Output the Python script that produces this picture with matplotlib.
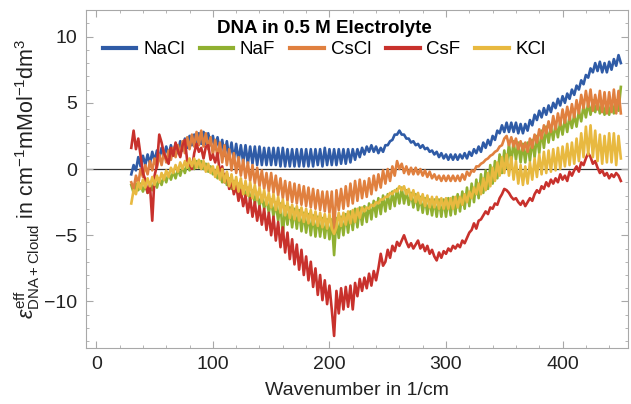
import numpy as np
import matplotlib
matplotlib.use("Agg")
import matplotlib.pyplot as plt

# wavenumber grid (1/cm), values every 2 cm^-1
wavenumber = np.arange(30, 452, 2)

nacl = [
    -0.4, 0.3, -0.1, 0.9, 0.2, 1.0, 0.3, 1.1, 0.4, 1.3,
    0.6, 1.4, 0.8, 1.6, 0.9, 1.7, 1.0, 1.8, 1.1, 1.9,
    1.2, 2.1, 1.4, 2.3, 1.6, 2.5, 1.8, 2.6, 1.9, 2.7,
    1.9, 2.8, 1.9, 2.7, 1.8, 2.5, 1.5, 2.4, 1.3, 2.2,
    1.0, 2.1, 0.8, 2.0, 0.7, 1.9, 0.6, 1.8, 0.5, 1.8,
    0.4, 1.7, 0.4, 1.7, 0.3, 1.7, 0.3, 1.6, 0.3, 1.6,
    0.3, 1.6, 0.3, 1.6, 0.2, 1.6, 0.2, 1.5, 0.2, 1.5,
    0.2, 1.5, 0.2, 1.5, 0.2, 1.5, 0.2, 1.5, 0.2, 1.5,
    0.3, 1.5, 0.2, 1.6, 0.3, 1.5, 0.3, 1.5, 0.3, 1.5,
    0.4, 1.5, 0.4, 1.5, 0.5, 1.5, 0.7, 1.5, 0.9, 1.6,
    1.1, 1.7, 1.3, 1.8, 1.3, 1.7, 1.2, 1.6, 1.3, 1.8,
    1.8, 2.1, 2.2, 2.6, 2.6, 2.9, 2.6, 2.6, 2.3, 2.3,
    2.0, 2.1, 1.8, 1.9, 1.6, 1.8, 1.5, 1.6, 1.3, 1.4,
    1.1, 1.3, 0.9, 1.2, 0.8, 1.1, 0.7, 1.1, 0.7, 1.1,
    0.7, 1.1, 0.8, 1.2, 0.8, 1.3, 1.0, 1.5, 1.2, 1.7,
    1.3, 2.0, 1.6, 2.2, 1.8, 2.5, 2.2, 2.9, 2.7, 3.3,
    2.8, 3.5, 2.8, 3.5, 2.8, 3.5, 2.7, 3.4, 2.7, 3.4,
    2.9, 3.7, 3.3, 4.1, 3.7, 4.4, 3.9, 4.6, 4.1, 4.8,
    4.3, 5.0, 4.6, 5.3, 4.8, 5.5, 5.0, 5.7, 5.3, 6.0,
    5.6, 6.3, 6.0, 6.7, 6.4, 7.1, 6.9, 7.6, 7.3, 8.0,
    7.4, 8.1, 7.3, 8.0, 7.3, 8.1, 7.5, 8.3, 7.8, 8.6,
    8.0,
]

naf = [
    -1.2, -1.8, -1.1, -1.6, -1.1, -1.7, -1.2, -1.8, -1.1, -1.6,
    -0.9, -1.4, -0.7, -1.2, -0.5, -1.0, -0.3, -0.8, -0.2, -0.7,
    0.0, -0.5, 0.2, -0.3, 0.4, -0.1, 0.5, 0.0, 0.6, 0.1,
    0.6, 0.0, 0.4, -0.2, 0.2, -0.4, -0.1, -0.7, -0.3, -1.0,
    -0.4, -1.2, -0.7, -1.5, -0.9, -1.7, -1.1, -1.9, -1.3, -2.1,
    -1.4, -2.4, -1.6, -2.6, -1.8, -2.8, -2.0, -3.0, -2.2, -3.3,
    -2.3, -3.6, -2.5, -3.9, -2.6, -5.0, -2.8, -4.2, -2.9, -4.4,
    -3.0, -4.5, -3.1, -4.7, -3.3, -4.8, -3.4, -5.0, -3.5, -5.1,
    -3.6, -5.1, -3.7, -5.2, -3.8, -5.3, -3.8, -6.5, -3.7, -5.2,
    -3.6, -5.0, -3.4, -4.8, -3.2, -4.6, -3.0, -4.4, -2.9, -4.2,
    -2.8, -4.0, -2.6, -3.8, -2.4, -3.6, -2.2, -3.4, -2.0, -3.2,
    -1.9, -3.0, -1.7, -2.8, -1.5, -2.6, -1.4, -2.6, -1.6, -2.7,
    -1.8, -2.9, -1.9, -3.1, -2.1, -3.3, -2.2, -3.4, -2.3, -3.5,
    -2.3, -3.6, -2.3, -3.6, -2.3, -3.6, -2.2, -3.5, -2.1, -3.4,
    -1.9, -3.2, -1.7, -3.0, -1.4, -2.8, -1.1, -2.5, -0.8, -2.2,
    -0.4, -1.8, -0.1, -1.5, 0.3, -1.1, 0.6, -0.7, 1.1, -0.3,
    1.4, 0.1, 1.9, 0.5, 2.1, 0.7, 2.0, 0.5, 1.9, 0.5,
    2.0, 0.6, 2.2, 0.9, 2.5, 1.2, 2.9, 1.6, 3.2, 2.0,
    3.2, 2.2, 3.4, 2.4, 3.6, 2.6, 3.8, 2.8, 4.0, 3.1,
    4.1, 3.2, 4.4, 3.6, 4.8, 3.9, 5.0, 4.1, 5.2, 4.3,
    5.1, 4.2, 5.0, 4.1, 5.0, 4.1, 5.1, 4.2, 5.2, 4.4,
    6.2,
]

cscl = [
    -1.0, -1.5, -0.5, -1.1, 0.0, -0.6, 0.3, -0.4, 0.6, -0.1,
    0.8, 0.1, 1.1, 0.3, 1.3, 0.5, 1.4, 0.7, 1.6, 0.9,
    1.8, 1.0, 2.1, 1.2, 2.4, 1.5, 2.6, 1.7, 2.8, 1.8,
    2.9, 1.7, 2.7, 1.5, 2.4, 1.1, 2.2, 0.8, 2.0, 0.5,
    1.8, 0.3, 1.5, -0.1, 1.2, -0.3, 0.9, -0.5, 0.7, -0.7,
    0.5, -0.9, 0.3, -1.1, 0.1, -1.3, -0.1, -1.5, -0.3, -1.7,
    -0.3, -1.8, -0.5, -2.0, -0.7, -2.2, -0.9, -2.4, -1.0, -2.5,
    -1.1, -2.6, -1.2, -2.7, -1.3, -2.8, -1.4, -2.9, -1.5, -3.0,
    -1.6, -3.1, -1.7, -3.2, -1.7, -3.3, -1.7, -4.6, -1.6, -3.1,
    -1.5, -3.0, -1.3, -2.8, -1.1, -2.6, -0.9, -2.4, -0.8, -2.2,
    -0.9, -2.1, -0.7, -1.9, -0.5, -1.6, -0.4, -1.4, -0.1, -1.1,
    0.0, -0.9, 0.2, -0.5, 0.6, 0.0, 0.4, -0.3, 0.2, -0.4,
    0.1, -0.4, 0.1, -0.4, 0.0, -0.5, -0.1, -0.6, -0.2, -0.7,
    -0.4, -0.8, -0.5, -0.9, -0.5, -0.9, -0.5, -0.9, -0.5, -0.9,
    -0.5, -0.9, -0.4, -0.8, -0.2, -0.5, -0.1, -0.2, 0.2, 0.2,
    0.4, 0.5, 0.7, 0.8, 1.0, 1.1, 1.3, 1.4, 1.7, 1.8,
    2.3, 2.5, 1.8, 2.4, 1.7, 2.3, 1.5, 2.1, 1.4, 2.0,
    1.3, 2.3, 1.6, 2.6, 2.0, 3.0, 2.3, 3.3, 2.7, 3.6,
    2.8, 4.0, 3.0, 4.2, 3.3, 4.5, 3.5, 4.7, 3.7, 4.9,
    3.9, 5.2, 4.2, 5.6, 4.6, 5.9, 4.7, 6.0, 4.4, 5.6,
    4.5, 5.9, 4.3, 5.8, 4.2, 5.8, 4.3, 6.0, 4.2, 5.9,
    4.2,
]

csf = [
    1.6, 2.9, 1.5, 2.3, 1.0, -0.3, -0.8, -1.8, -1.2, -3.9,
    -0.5, 0.3, 2.6, 2.0, 1.2, 0.8, 0.4, 1.6, 1.0, 2.0,
    1.4, 0.9, 1.8, 2.2, 0.6, 0.4, 0.0, 1.2, 1.9, 1.3,
    1.6, 0.8, 1.7, 1.8, 0.7, 1.1, 0.5, 1.2, -0.3, 0.2,
    -1.0, -0.3, -1.5, -0.8, -1.9, -1.2, -2.4, -1.6, -2.8, -2.0,
    -3.3, -2.2, -3.6, -2.5, -3.9, -2.8, -4.2, -3.0, -4.6, -3.3,
    -5.0, -3.6, -5.4, -4.0, -5.9, -4.4, -6.3, -4.8, -6.8, -5.3,
    -7.2, -5.7, -7.6, -6.1, -8.0, -6.6, -8.4, -7.0, -8.9, -7.5,
    -9.5, -8.0, -9.9, -8.4, -10.2, -8.8, -10.6, -12.6, -9.2, -10.9,
    -9.0, -10.6, -8.9, -10.4, -8.8, -10.6, -8.6, -9.6, -8.3, -9.2,
    -8.2, -9.0, -7.9, -8.8, -7.7, -8.4, -7.5, -6.4, -7.3, -7.0,
    -6.1, -6.7, -5.8, -6.2, -5.5, -5.8, -5.4, -5.0, -5.5, -5.9,
    -5.6, -6.0, -5.7, -5.4, -6.0, -5.7, -6.2, -5.8, -6.4, -6.1,
    -6.6, -6.9, -6.3, -6.7, -6.2, -6.4, -6.0, -6.2, -5.8, -6.0,
    -5.7, -5.9, -5.4, -5.6, -5.2, -4.8, -4.6, -4.1, -4.5, -3.9,
    -3.8, -3.5, -3.2, -3.4, -2.9, -3.0, -2.6, -2.7, -2.2, -1.9,
    -1.5, -1.6, -1.8, -2.1, -2.3, -2.2, -2.5, -2.7, -2.4, -2.8,
    -2.5, -2.2, -2.4, -1.9, -1.6, -1.8, -1.3, -1.5, -1.0, -1.3,
    -0.8, -1.1, -0.7, -1.0, -0.4, -0.8, -0.5, -0.9, -0.2, -0.5,
    -0.1, 0.2, -0.2, 0.5, 0.3, 0.8, 1.2, 0.9, 0.4, 0.6,
    0.1, -0.3, -0.1, -0.5, -0.3, -0.7, -0.4, -0.6, -0.3, -0.5,
    -0.9,
]

kcl = [
    -2.6, -1.6, -1.9, -1.0, -1.5, -0.8, -1.4, -0.7, -1.3, -0.6,
    -1.2, -0.5, -1.0, -0.3, -0.8, -0.1, -0.6, 0.1, -0.3, 0.3,
    -0.2, 0.5, 0.0, 0.6, 0.1, 0.8, 0.2, 0.8, 0.1, 0.7,
    0.0, 0.6, -0.2, 0.4, -0.3, 0.2, -0.6, 0.2, -0.8, 0.0,
    -1.0, -0.2, -1.3, -0.4, -1.5, -0.6, -1.7, -0.7, -1.9, -0.9,
    -2.0, -1.0, -2.2, -1.2, -2.3, -1.4, -2.5, -1.6, -2.7, -1.8,
    -2.9, -1.9, -3.1, -2.1, -3.3, -2.3, -3.5, -2.5, -3.7, -2.7,
    -3.8, -2.8, -3.9, -2.9, -4.0, -3.0, -4.1, -3.1, -4.2, -3.2,
    -4.3, -3.3, -4.4, -3.4, -4.5, -3.4, -4.5, -4.9, -4.4, -3.3,
    -4.3, -3.3, -4.2, -3.2, -4.1, -3.1, -4.0, -3.0, -3.7, -2.9,
    -3.2, -2.9, -3.0, -2.7, -2.8, -2.5, -2.6, -2.3, -2.3, -2.1,
    -2.1, -1.8, -1.9, -1.6, -1.7, -1.3, -1.6, -1.3, -1.9, -1.5,
    -2.3, -1.6, -2.5, -1.8, -2.6, -1.9, -2.8, -2.0, -2.9, -2.1,
    -2.9, -2.1, -3.0, -2.2, -3.0, -2.2, -3.0, -2.2, -3.0, -2.1,
    -2.9, -2.1, -2.7, -1.9, -2.5, -1.7, -2.2, -1.4, -1.9, -1.1,
    -1.9, -0.7, -1.6, -0.3, -1.3, 0.1, -0.9, 0.5, -0.5, 0.9,
    -0.3, 1.1, -0.5, 0.9, -0.8, 0.6, -1.1, 0.3, -1.2, 0.2,
    -1.1, 0.5, -0.8, 0.8, -0.6, 1.1, -0.4, 1.3, -0.3, 1.4,
    -0.2, 1.5, -0.1, 1.6, 0.0, 1.7, 0.2, 1.9, 0.3, 2.0,
    0.4, 2.3, 0.6, 2.7, 0.9, 3.2, 1.1, 3.3, 0.9, 2.9,
    0.6, 2.6, 0.4, 2.5, 0.5, 2.7, 0.5, 2.7, 0.3, 2.5,
    0.8,
]

labels = ["NaCl", "NaF", "CsCl", "CsF", "KCl"]
colors = ["#2f5ba6", "#90b031", "#e0803f", "#c8312c", "#e8b940"]

plt.rcParams["font.family"] = ["Liberation Sans", "DejaVu Sans"]
plt.rcParams["mathtext.fontset"] = "custom"
plt.rcParams["mathtext.rm"] = "Liberation Sans"
plt.rcParams["mathtext.it"] = "Liberation Sans:italic"

fig = plt.figure(figsize=(6.31, 4.04), dpi=100)
ax = fig.add_axes([0.136, 0.139, 0.859, 0.836])

ax.axhline(0, color="#333333", linewidth=0.9, zorder=1)

series = [nacl, naf, cscl, csf, kcl]
for vals, lab, col in zip(series, labels, colors):
    ax.plot(wavenumber, vals, color=col, linewidth=1.9, label=lab, zorder=2)

ax.set_xlim(-9, 456)
ax.set_ylim(-13.5, 12)
ax.set_xticks([0, 100, 200, 300, 400])
ax.set_xticks(np.arange(0, 460, 20), minor=True)
ax.set_yticks([-10, -5, 0, 5, 10])
ax.set_yticks(np.arange(-13, 12, 1), minor=True)
ax.set_yticklabels(["\u221210", "\u22125", "0", "5", "10"])

for s in ax.spines.values():
    s.set_color("#a8a8a8")
    s.set_linewidth(0.8)
ax.tick_params(which="both", direction="in", top=True, right=True,
               colors="#a8a8a8", labelcolor="#222222", labelsize=14)
ax.tick_params(which="major", length=5, pad=6)
ax.tick_params(which="minor", length=2.5)

ax.set_xlabel("Wavenumber in 1/cm", fontsize=14, color="#222222", labelpad=6)
ax.set_ylabel(r"$\epsilon^{\mathrm{eff}}_{\mathrm{DNA+Cloud}}$ in cm$^{-1}$mMol$^{-1}$dm$^{3}$",
              fontsize=15.5, color="#222222", labelpad=2)

leg = ax.legend(loc="upper center", bbox_to_anchor=(0.44, 1.003), ncol=5,
                frameon=False, fontsize=13.5, handlelength=1.8,
                handletextpad=0.35, columnspacing=0.8, borderaxespad=0.2,
                labelspacing=0.2, title="DNA in 0.5 M Electrolyte")
leg.get_title().set_fontweight("bold")
leg.get_title().set_fontsize(13.5)
for line in leg.get_lines():
    line.set_linewidth(3)

fig.savefig("out.png", dpi=100)
